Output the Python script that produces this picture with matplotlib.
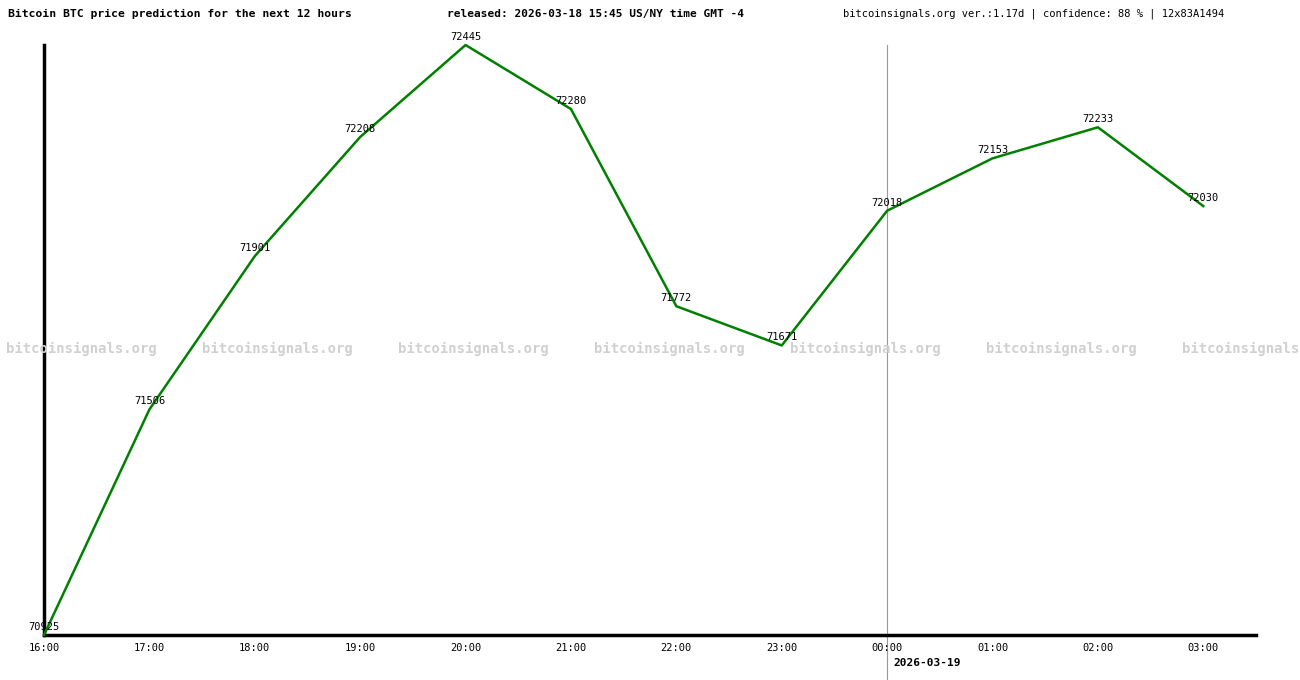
import matplotlib
matplotlib.use('Agg')
import matplotlib.pyplot as plt

# Predicted prices per hour
hours = ['16:00', '17:00', '18:00', '19:00', '20:00', '21:00', '22:00',
         '23:00', '00:00', '01:00', '02:00', '03:00']
prices = [70925, 71506, 71901, 72208, 72445, 72280, 71772,
          71671, 72018, 72153, 72233, 72030]

plt.rcParams['font.family'] = 'DejaVu Sans Mono'

fig = plt.figure(figsize=(13, 6.8), dpi=100)
ax = fig.add_axes([44 / 1300, 1 - 635 / 680, (1256 - 44) / 1300, 590 / 680])
x = list(range(len(hours)))

ax.plot(x, prices, color='#008000', lw=1.8, zorder=3, clip_on=False)
for xi, p in zip(x, prices):
    ax.text(xi, p + 8, str(p), ha='center', va='bottom', fontsize=7.5, zorder=4)

ax.set_xlim(0, 11.5)
ax.set_ylim(min(prices), max(prices))
ax.axvline(8, color='#999999', lw=0.8, ymin=-0.1, clip_on=False, zorder=1)

for s in ['top', 'right']:
    ax.spines[s].set_visible(False)
ax.spines['left'].set_linewidth(2.5)
ax.spines['bottom'].set_linewidth(2.5)
ax.set_yticks([])
ax.set_xticks(x)
ax.set_xticklabels(hours, fontsize=7.5)
ax.tick_params(axis='x', length=0, pad=6)

# watermark (last one runs off the right edge, as in the original)
for i in range(7):
    fig.text((6 + i * 196) / 1300, 1 - 349 / 680, 'bitcoinsignals.org',
             fontsize=10, fontweight='bold', color='#d0d0d0', va='center', ha='left')

fig.text(8 / 1300, 1 - 14 / 680, 'Bitcoin BTC price prediction for the next 12 hours',
         fontsize=8.2, fontweight='bold', va='center')
fig.text(447 / 1300, 1 - 14 / 680, 'released: 2026-03-18 15:45 US/NY time GMT -4',
         fontsize=8, fontweight='bold', va='center')
fig.text(843 / 1300, 1 - 14 / 680,
         'bitcoinsignals.org ver.:1.17d | confidence: 88 % | 12x83A1494',
         fontsize=7.5, va='center')
fig.text(893 / 1300, 1 - 663 / 680, '2026-03-19', fontsize=8,
         fontweight='bold', va='center')

fig.savefig('out.png', dpi=100)
